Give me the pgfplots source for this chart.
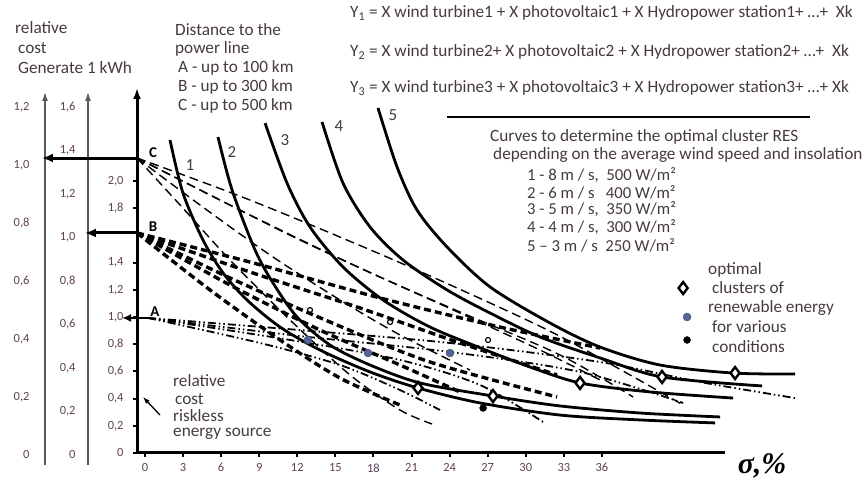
\documentclass[border=0pt]{standalone}
\usepackage{pgfplots}
\pgfplotsset{compat=1.18}
\usetikzlibrary{arrows.meta}
\usepackage{fontspec}
\setmainfont{Carlito}
\newfontfamily\sigmafont{Liberation Serif}

\definecolor{txt}{RGB}{70,58,60}
\definecolor{tick}{RGB}{95,65,85}
\definecolor{bluedot}{RGB}{85,100,150}

\pgfplotsset{
  curve/.style={line width=2.8bp, black, smooth},
  cdash/.style={line width=1.4bp, black, smooth, dash pattern=on 9bp off 5bp},
  bdash/.style={line width=3.4bp, black, smooth, dash pattern=on 7bp off 4bp},
  adash/.style={line width=1.8bp, black, smooth, dash pattern=on 8bp off 3bp on 1.5bp off 3bp on 1.5bp off 3bp},
  sideaxis/.style={
    scale only axis, width=20bp, height=363bp, anchor=south west,
    xmin=0, xmax=1, ymin=0,
    axis x line=none, axis y line=left,
    y axis line style={line width=1.3bp, draw=black!65, shorten <=-10bp, -{Latex[length=9bp,width=6bp]}},
    major tick length=0pt,
    yticklabel style={font=\fontsize{12.5}{13}\selectfont, text=tick},
  },
}

\begin{document}
\begin{tikzpicture}[x=1bp,y=1bp]
\path[use as bounding box] (0,0) rectangle (866,485);

% relative cost of 1 kWh
\begin{axis}[sideaxis, at={(45bp,30bp)}, ymax=1.252,
  ytick={0,0.2,0.4,0.6,0.8,1.0,1.2},
  yticklabels={0,{0,2},{0,4},{0,6},{0,8},{1,0},{1,2}},
  yticklabel style={xshift=-12bp}]
\addplot[draw=none] coordinates {(0,0)};
\end{axis}

\begin{axis}[sideaxis, at={(88bp,30bp)}, ymax=1.669,
  ytick={0,0.2,0.4,0.6,0.8,1.0,1.2,1.4,1.6},
  yticklabels={0,{0,2},{0,4},{0,6},{0,8},{1,0},{1,2},{1,4},{1,6}},
  yticklabel style={xshift=-9bp}]
\addplot[draw=none] coordinates {(0,0)};
\end{axis}

% main chart
\begin{axis}[
  at={(137bp,32bp)}, anchor=south west, scale only axis,
  width=588bp, height=365bp,
  xmin=-0.63, xmax=45.7, ymin=0, ymax=2.684,
  axis x line=bottom, axis y line=left,
  x axis line style={line width=3bp, -},
  y axis line style={line width=3bp, -{Latex[length=11bp,width=8bp]}},
  clip=false,
  tick align=outside, major tick length=4bp,
  tick style={line width=2bp, black},
  xtick={0,3,...,36},
  ytick={0,0.2,0.4,0.6,0.8,1.0,1.2,1.4,1.8,2.0},
  yticklabels={0,{0,2},{0,4},{0,6},{0,8},{1,0},{1,2},{1,4},{1,8},{2,0}},
  /pgf/number format/assume math mode=true,
  ticklabel style={font=\fontsize{12.5}{13}\selectfont, text=tick},
  yticklabel style={xshift=-6bp},
  xticklabel style={yshift=-3bp},
]
% C fan
\addplot[cdash] coordinates {(-0.63,2.169) (8.27,1.860) (18.52,1.463) (27.19,1.103) (33.25,0.831) (42.40,0.353)};
\addplot[cdash] coordinates {(-0.63,2.169) (5.91,1.860) (12.21,1.566) (18.52,1.294) (24.82,1.029) (31.13,0.757) (35.86,0.537)};
\addplot[cdash] coordinates {(-0.63,2.169) (4.33,1.824) (9.85,1.456) (15.37,1.125) (20.09,0.868) (25.61,0.610)};
\addplot[cdash] coordinates {(-0.63,2.169) (2.76,1.824) (6.70,1.419) (11.43,0.978) (16.15,0.574) (20.09,0.316) (22.62,0.213)};
\addplot[cdash] coordinates {(-0.63,2.169) (8.27,1.750) (16.94,1.360) (24.82,1.037) (32.70,0.721) (38.46,0.412)};
% B fan
\addplot[bdash] coordinates {(-0.63,1.618) (8.27,1.404) (18.52,1.140) (27.97,0.926) (35.86,0.772)};
\addplot[bdash] coordinates {(-0.63,1.618) (8.27,1.331) (16.94,1.066) (24.82,0.809) (32.47,0.574)};
\addplot[bdash] coordinates {(-0.63,1.618) (6.70,1.287) (14.58,0.963) (22.46,0.669) (32.47,0.412)};
\addplot[bdash] coordinates {(-0.63,1.618) (6.70,1.235) (13.79,0.904) (20.09,0.647) (24.82,0.449)};
\addplot[bdash] coordinates {(-0.63,1.618) (5.12,1.199) (10.64,0.831) (15.37,0.551) (20.09,0.353)};
% A fan
\addplot[adash] coordinates {(0.24,0.993) (12.21,0.904) (24.03,0.809) (35.86,0.669) (43.74,0.522) (51.22,0.404)};
\addplot[adash] coordinates {(0.24,0.993) (12.21,0.860) (24.03,0.743) (34.28,0.596) (42.40,0.368)};
\addplot[adash] coordinates {(0.24,0.993) (11.43,0.831) (20.09,0.684) (26.40,0.500) (31.36,0.228)};
\addplot[adash] coordinates {(0.24,0.993) (9.06,0.809) (15.37,0.647) (20.09,0.463) (23.25,0.316)};
% curves 1-5
\addplot[curve] coordinates {(1.97,2.301) (2.99,1.912) (4.57,1.566) (6.15,1.324) (8.04,1.125) (10.64,0.926) (13.79,0.757) (17.73,0.596) (21.51,0.478) (26.40,0.368) (32.70,0.279) (39.01,0.243) (44.92,0.221)};
\addplot[curve] coordinates {(5.75,2.324) (6.86,1.934) (8.67,1.493) (10.09,1.250) (11.98,1.000) (14.58,0.794) (17.73,0.647) (21.67,0.515) (27.42,0.419) (32.70,0.346) (39.01,0.294) (45.31,0.265)};
\addplot[curve] coordinates {(9.46,2.426) (11.19,1.985) (13.00,1.662) (15.60,1.368) (18.76,1.125) (22.46,0.926) (26.64,0.765) (30.34,0.632) (34.28,0.515) (39.79,0.449) (46.34,0.404)};
\addplot[curve] coordinates {(13.95,2.434) (15.60,1.985) (17.73,1.662) (20.33,1.419) (23.80,1.199) (27.19,1.029) (31.13,0.853) (35.86,0.699) (40.74,0.559) (48.62,0.493)};
\addplot[curve] coordinates {(18.36,2.537) (19.86,2.103) (21.43,1.787) (23.80,1.515) (27.19,1.221) (31.91,0.956) (35.86,0.779) (40.58,0.647) (46.34,0.588) (51.22,0.581)};
% markers
\addplot[only marks, mark=o, mark size=2.5bp, mark options={line width=1.2bp}] coordinates {(13.00,1.051) (19.31,0.963) (27.03,0.831)};
\addplot[only marks, mark=*, mark size=4bp, mark options={fill=bluedot, draw=bluedot!80!black}] coordinates {(12.84,0.831) (17.57,0.735) (24.03,0.735) (42.71,1.000)};
\addplot[only marks, mark=*, mark size=3.5bp, black] coordinates {(26.64,0.331) (42.71,0.831)};
\addplot[only marks, mark=diamond*, mark size=6bp, mark options={fill=white, draw=black, line width=2.4bp}] coordinates {(21.51,0.478) (27.42,0.419) (34.28,0.515) (40.74,0.559) (46.49,0.588) (42.40,1.213)};
% arrows to the side scales
\addplot[line width=3bp, -{Latex[length=11bp,width=9bp]}] coordinates {(-0.63,2.169) (-8.12,2.169)};
\addplot[line width=3bp, -{Latex[length=11bp,width=9bp]}] coordinates {(-0.63,1.618) (-4.73,1.618)};
\addplot[line width=2.5bp, -{Latex[length=9bp,width=8bp]}] coordinates {(0.39,0.993) (-1.81,0.993)};
\addplot[line width=1.3bp, -{Latex[length=7bp,width=5bp]}] coordinates {(1.18,0.279) (-0.16,0.412)};
\end{axis}

% texts
\begin{scope}[every node/.style={anchor=west, inner sep=0pt, text=txt, font=\fontsize{17.3}{19}\selectfont}]
\node at (15,457) {relative};
\node at (18,437) {cost};
\node at (18,417) {Generate 1 kWh};
\node at (175,455) {Distance to the};
\node at (175,436) {power line};
\node at (178,417) {A - up to 100 km};
\node at (178,398) {B - up to 300 km};
\node at (178,379) {C - up to 500 km};
\node at (350,472) {Y\textsubscript{1} = X wind turbine1 + X photovoltaic1 + X Hydropower station1+ …+\ \ Xk};
\node at (350,433) {Y\textsubscript{2} = X wind turbine2+ X photovoltaic2 + X Hydropower station2+ …+\ \ Xk};
\node at (350,397) {Y\textsubscript{3} = X wind turbine3 + X photovoltaic3 + X Hydropower station3+ …+ Xk};
\node at (490,348) {Curves to determine the optimal cluster RES};
\node at (493,330) {depending on the average wind speed and insolation};
\node at (173,104) {relative};
\node at (175,86) {cost};
\node at (173,69) {riskless};
\node at (173,51) {energy source};
\node at (708,215) {optimal};
\node at (712,197) {clusters of};
\node at (708,177) {renewable energy};
\node at (712,158) {for various};
\node at (712,138) {conditions};
\end{scope}
\begin{scope}[every node/.style={anchor=west, inner sep=0pt, text=txt, font=\fontsize{16.8}{18}\selectfont}]
\node at (527,310) {1 - 8 m / s,\ \ 500 W/m²};
\node at (527,293) {2 - 6 m / s\ \ \ 400 W/m²};
\node at (527,276) {3 - 5 m / s,\ \ 350 W/m²};
\node at (527,258) {4 - 4 m / s,\ \ 300 W/m²};
\node at (527,240) {5 – 3 m / s\ \ 250 W/m²};
\end{scope}
\draw[line width=1.3bp] (447,368) -- (810,368);
\begin{scope}[every node/.style={inner sep=0pt, text=txt, font=\fontsize{17}{19}\selectfont}]
\node at (190,320) {1};
\node at (232,333) {2};
\node at (285,345) {3};
\node at (339,359) {4};
\node at (393,370) {5};
\end{scope}
\begin{scope}[every node/.style={inner sep=0pt, text=black, font=\fontsize{15}{17}\selectfont\bfseries}]
\node at (153,332) {C};
\node at (153,258) {B};
\node at (155,173) {A};
\end{scope}
\node[inner sep=0pt, font=\fontsize{30}{32}\selectfont\sigmafont\bfseries\itshape] at (762,19) {σ,\%};
\end{tikzpicture}
\end{document}
